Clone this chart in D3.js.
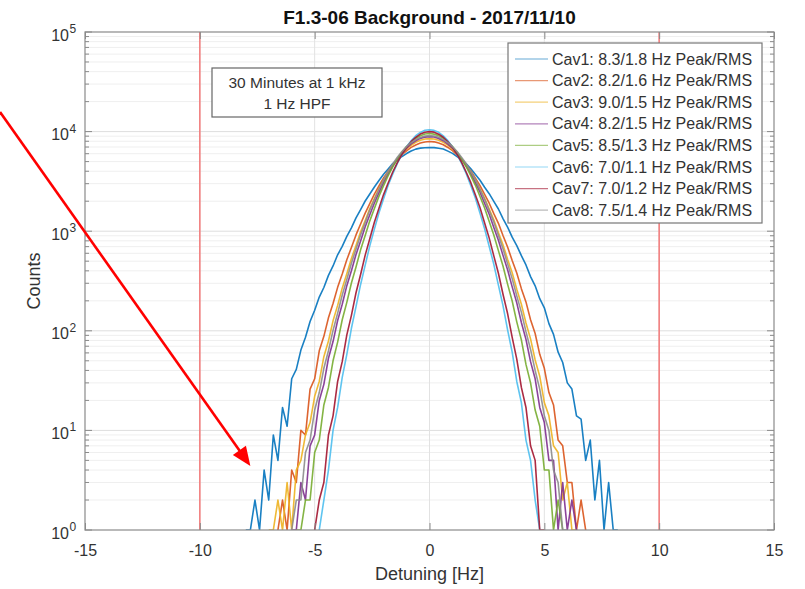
<!DOCTYPE html>
<html><head><meta charset="utf-8">
<script src="https://cdn.jsdelivr.net/npm/d3@7"></script>
<style>body{margin:0;background:#fff} svg{display:block;font-family:"Liberation Sans",Arial,Helvetica,sans-serif}</style>
</head><body><svg id="c" width="805" height="589"></svg>
<script>
// ---------- data ----------
const detuning = [-8.4,-8.2,-8.0,-7.8,-7.6,-7.4,-7.2,-7.0,-6.8,-6.6,-6.4,-6.2,-6.0,-5.8,-5.6,-5.4,-5.2,-5.0,-4.8,-4.6,-4.4,-4.2,-4.0,-3.8,-3.6,-3.4,-3.2,-3.0,-2.8,-2.6,-2.4,-2.2,-2.0,-1.8,-1.6,-1.4,-1.2,-1.0,-0.8,-0.6,-0.4,-0.2,0,
0.2,0.4,0.6,0.8,1.0,1.2,1.4,1.6,1.8,2.0,2.2,2.4,2.6,2.8,3.0,3.2,3.4,3.6,3.8,4.0,4.2,4.4,4.6,4.8,5.0,5.2,5.4,5.6,5.8,6.0,6.2,6.4,6.6,6.8,7.0,7.2,7.4,7.6,7.8,8.0,8.2,8.4];

const cav1 = [0,0,1,1,2,1,4,2,9,5,17,11,33,41,64,86,124,161,218,272,360,448,580,705,887,1080,1360,1650,2010,2360,2780,3230,3730,4210,4770,5200,5630,6020,6390,6670,6820,6880,
6910,
6900,6800,6690,6370,6040,5610,5220,4750,4230,3710,3250,2760,2380,1990,1670,1340,1100,872,717,568,458,350,283,210,170,118,92,61,48,30,26,14,13,5,8,2,5,1,3,1,1,0];
const cav2 = [0,0,0,0,0,0,0,0,0,1,2,1,4,3,10,9,26,33,63,88,135,188,273,371,517,686,918,1180,1520,1890,2360,2850,3420,4000,4630,5240,5870,6420,6950,7350,7690,7870,
7950,
7890,7670,7370,6930,6440,5850,5260,4610,4020,3400,2870,2340,1910,1500,1200,905,695,508,380,265,195,129,94,58,42,24,18,8,7,3,3,1,2,1,0,0,0,0,0,0,0,0];
const cav3 = [0,0,0,0,0,0,0,1,1,2,1,3,1,4,5,9,12,22,31,55,79,126,180,268,374,533,720,985,1280,1690,2120,2670,3240,3920,4590,5320,6010,6700,7290,7820,8180,8440,
8500,
8420,8200,7800,7310,6680,6030,5300,4610,3900,3260,2650,2140,1670,1300,970,732,522,383,261,185,120,83,51,35,19,14,7,6,2,3,1,1,0,0,0,0,0,0,0,0,0,0];
const cav4 = [0,0,0,0,0,0,0,0,0,0,0,0,1,1,3,2,7,9,20,29,53,78,127,185,284,401,584,798,1110,1460,1920,2440,3070,3740,4510,5270,6080,6810,7520,8080,8550,8810,
8900,
8830,8530,8100,7500,6830,6060,5290,4490,3760,3050,2460,1900,1480,1090,810,572,410,276,191,121,82,49,33,17,12,5,5,1,3,1,2,1,0,0,0,0,0,0,0,0,0,0];
const cav5 = [0,0,0,0,0,0,0,0,0,0,0,0,0,1,1,2,2,6,8,18,27,50,77,129,193,302,438,650,905,1270,1690,2250,2870,3620,4420,5320,6190,7090,7870,8580,9090,9450,
9560,
9430,9110,8560,7890,7070,6210,5300,4440,3600,2890,2230,1710,1250,915,638,447,294,199,123,81,46,30,16,11,4,4,1,2,1,0,0,0,0,0,0,0,0,0,0,0,0,0];
const cav6 = [0,0,0,0,0,0,0,0,0,0,0,0,0,0,0,0,0,0,1,2,4,10,17,34,58,106,175,292,457,712,1050,1530,2120,2890,3760,4800,5890,7040,8100,9090,9810,10300,
10450,
10280,9830,9070,8120,7020,5910,4780,3780,2870,2140,1510,1060,703,465,287,179,102,61,31,19,8,5,2,1,0,0,0,0,0,0,0,0,0,0,0,0,0,0,0,0,0,0];
const cav7 = [0,0,0,0,0,0,0,0,0,0,0,0,0,0,0,0,0,1,2,3,9,14,31,49,91,143,241,368,575,840,1230,1700,2330,3050,3930,4880,5920,6930,7920,8760,9440,9850,
10000,
9870,9420,8780,7900,6950,5900,4900,3910,3070,2310,1720,1210,852,565,378,233,149,86,52,27,17,7,5,1,1,0,0,0,0,0,0,0,0,0,0,0,0,0,0,0,0,0];
const cav8 = [0,0,0,0,0,0,0,0,0,0,0,0,1,2,2,6,8,16,24,42,63,101,150,229,328,477,660,915,1220,1630,2080,2650,3270,3990,4730,5530,6300,7070,7730,8330,8740,9040,
9110,
9020,8760,8310,7750,7050,6320,5510,4750,3970,3290,2630,2100,1610,1240,908,668,470,334,224,154,98,65,40,26,14,10,4,3,1,1,0,0,0,0,0,0,0,0,0,0,0,0];

const seriesNames = ["Cav1: 8.3/1.8 Hz Peak/RMS","Cav2: 8.2/1.6 Hz Peak/RMS","Cav3: 9.0/1.5 Hz Peak/RMS","Cav4: 8.2/1.5 Hz Peak/RMS",
  "Cav5: 8.5/1.3 Hz Peak/RMS","Cav6: 7.0/1.1 Hz Peak/RMS","Cav7: 7.0/1.2 Hz Peak/RMS","Cav8: 7.5/1.4 Hz Peak/RMS"];
const seriesColors = ["#0072BD","#D95319","#EDB120","#7E2F8E","#77AC30","#4DBEEE","#A2142F","#8c8c8c"];
const seriesValues = [cav1,cav2,cav3,cav4,cav5,cav6,cav7,cav8];

const xTicks = [-15,-10,-5,0,5,10,15];
const yTicks = [1,10,100,1000,10000,100000];
const yTickExp = ["0","1","2","3","4","5"];
const limitLines = [-10,10];
const titleText = "F1.3-06 Background - 2017/11/10";
const xLabel = "Detuning [Hz]";
const yLabel = "Counts";
const noteLines = ["30 Minutes at 1 kHz","1 Hz HPF"];
const arrowFrom = [-18.7, 15700];
const arrowTo = [-7.8, 4.4];

// ---------- layout ----------
const L=85, R=774, T=32, B=530;
const x = d3.scaleLinear().domain([-15,15]).range([L,R]);
const y = d3.scaleLog().domain([1,1e5]).range([B,T]);
const svg = d3.select("#c");

// grid
const minorVals = [];
for (let d=0; d<5; d++) for (let k=2;k<=9;k++) minorVals.push(k*Math.pow(10,d));
const grid = svg.append("g");
grid.selectAll("line.mn").data(minorVals).join("line")
  .attr("x1",L).attr("x2",R).attr("y1",d=>y(d)).attr("y2",d=>y(d))
  .attr("stroke","#efefef").attr("stroke-width",1);
grid.selectAll("line.mjy").data(yTicks.slice(1,-1)).join("line")
  .attr("x1",L).attr("x2",R).attr("y1",d=>y(d)).attr("y2",d=>y(d))
  .attr("stroke","#dedede").attr("stroke-width",1);
grid.selectAll("line.mjx").data(xTicks.slice(1,-1)).join("line")
  .attr("y1",T).attr("y2",B).attr("x1",d=>x(d)).attr("x2",d=>x(d))
  .attr("stroke","#e2e2e2").attr("stroke-width",1);

// clip
svg.append("clipPath").attr("id","clip").append("rect").attr("x",L).attr("y",T-1).attr("width",R-L).attr("height",B-T+1);

// red limit lines
svg.append("g").selectAll("line").data(limitLines).join("line")
  .attr("x1",d=>x(d)).attr("x2",d=>x(d)).attr("y1",T).attr("y2",B)
  .attr("stroke","#f28080").attr("stroke-width",1.6);

// series
const line = d3.line().defined(d=>d[1]>=1).x(d=>x(d[0])).y(d=>y(d[1]));
const plot = svg.append("g").attr("clip-path","url(#clip)");
seriesValues.forEach((vals,i)=>{
  const pts = detuning.map((dx,j)=>[dx, vals[j]]);
  plot.append("path").datum(pts).attr("d",line).attr("fill","none")
    .attr("stroke",seriesColors[i]).attr("stroke-width",1.6).attr("stroke-opacity",0.9)
    .attr("stroke-linejoin","round");
});

// axes box
svg.append("rect").attr("x",L).attr("y",T).attr("width",R-L).attr("height",B-T)
  .attr("fill","none").attr("stroke","#8a8a8a").attr("stroke-width",1.2);

// x ticks & labels
const xAxis = d3.axisBottom(x).tickValues(xTicks).tickSize(-7).tickPadding(15).tickFormat(d=>String(d));
const gx = svg.append("g").attr("transform",`translate(0,${B})`).call(xAxis);
gx.select(".domain").remove();
gx.selectAll(".tick line").attr("stroke","#8a8a8a");
gx.selectAll(".tick text").attr("font-size",16).attr("fill","#333").attr("font-family","Liberation Sans, Arial, sans-serif");
const xAxisTop = d3.axisTop(x).tickValues(xTicks).tickSize(-7).tickFormat("");
const gxt = svg.append("g").attr("transform",`translate(0,${T})`).call(xAxisTop);
gxt.select(".domain").remove(); gxt.selectAll(".tick line").attr("stroke","#8a8a8a");

// y ticks (major + minor, both sides)
const tickG = svg.append("g").attr("stroke","#8a8a8a");
[L,R].forEach(x0=>{
  const dir = x0===L?1:-1;
  tickG.selectAll(null).data(yTicks).join("line")
    .attr("x1",x0).attr("x2",x0+dir*7).attr("y1",d=>y(d)).attr("y2",d=>y(d));
  tickG.selectAll(null).data(minorVals).join("line")
    .attr("x1",x0).attr("x2",x0+dir*4).attr("y1",d=>y(d)).attr("y2",d=>y(d));
});
const yl = svg.append("g").attr("fill","#333");
yTicks.forEach((v,i)=>{
  yl.append("text").attr("x",69).attr("y",y(v)+8.5).attr("text-anchor","end").attr("font-size",16).text("10");
  yl.append("text").attr("x",69.5).attr("y",y(v)+1).attr("text-anchor","start").attr("font-size",12).text(yTickExp[i]);
});

// title & labels
svg.append("text").attr("x",(L+R)/2).attr("y",24).attr("text-anchor","middle")
  .attr("font-size",19).attr("font-weight","bold").attr("fill","#111").text(titleText);
svg.append("text").attr("x",(L+R)/2).attr("y",580).attr("text-anchor","middle")
  .attr("font-size",18).attr("fill","#333").text(xLabel);
svg.append("text").attr("transform",`translate(39.5,${(T+B)/2}) rotate(-90)`).attr("text-anchor","middle")
  .attr("font-size",18).attr("fill","#333").text(yLabel);

// note box
const nb = svg.append("g");
nb.append("rect").attr("x",212).attr("y",68).attr("width",170).attr("height",49)
  .attr("fill","#fff").attr("stroke","#666").attr("stroke-width",1.2);
noteLines.forEach((t,i)=>{
  nb.append("text").attr("x",297).attr("y",83+i*21).attr("dy","0.35em").attr("text-anchor","middle")
    .attr("font-size",15.5).attr("fill","#333").text(t);
});

// legend
const lg = svg.append("g");
lg.append("rect").attr("x",508).attr("y",43).attr("width",254).attr("height",180)
  .attr("fill","#fff").attr("stroke","#777").attr("stroke-width",1.2);
seriesNames.forEach((n,i)=>{
  const yy = 59 + i*21.6;
  lg.append("line").attr("x1",515).attr("x2",548).attr("y1",yy).attr("y2",yy)
    .attr("stroke",seriesColors[i]).attr("stroke-width",1.2).attr("stroke-opacity",0.6);
  lg.append("text").attr("x",552).attr("y",yy).attr("dy","0.35em").attr("font-size",16)
    .attr("fill","#333").text(n);
});

// red arrow annotation
const ax0 = x(arrowFrom[0]), ay0 = y(arrowFrom[1]), ax1 = x(arrowTo[0]), ay1 = y(arrowTo[1]);
const len = Math.hypot(ax1-ax0, ay1-ay0), ux=(ax1-ax0)/len, uy=(ay1-ay0)/len;
const hl=19, hw=8;
const bx = ax1-ux*hl, by = ay1-uy*hl;
svg.append("line").attr("x1",ax0).attr("y1",ay0).attr("x2",bx+ux*2).attr("y2",by+uy*2)
  .attr("stroke","#ff0000").attr("stroke-width",2.6);
svg.append("path").attr("d",`M${ax1},${ay1}L${bx-uy*hw},${by+ux*hw}L${bx+uy*hw},${by-ux*hw}Z`).attr("fill","#ff0000");
</script></body></html>
